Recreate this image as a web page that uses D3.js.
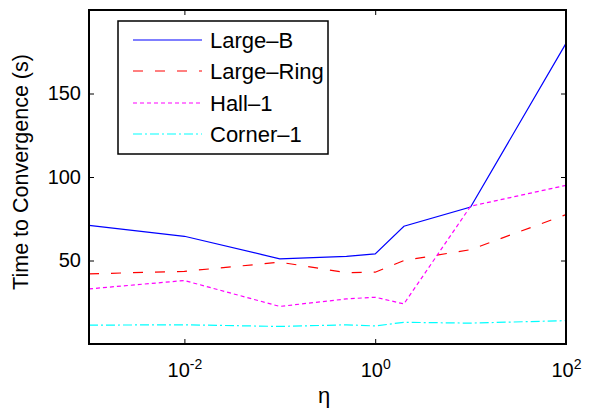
<!DOCTYPE html>
<html>
<head>
<meta charset="utf-8">
<script src="https://cdn.jsdelivr.net/npm/d3@7"></script>
<style>
  body { margin: 0; background: #fff; }
  text { font-family: "Liberation Sans", Arial, Helvetica, sans-serif; fill: #000; }
</style>
</head>
<body>
<div id="chart"></div>
<script>
const width = 590;
const height = 409;
const margin = { top: 10, right: 24, bottom: 65, left: 89 };

// eta values where each series was sampled
const eta = [0.001, 0.01, 0.1, 0.5, 1, 2, 10, 100];

const largeB = [71, 64.5, 51, 52.5, 54, 70.5, 82, 180];
const largeRing = [42, 43.5, 49, 42.7, 43, 50, 56.5, 77.5];
const hall1 = [33, 38, 22.5, 27, 28, 24, 82.5, 95];
const corner1 = [11.3, 11.5, 10.5, 11.5, 10.8, 13, 12.5, 14];

const seriesNames = ["Large\u2013B", "Large\u2013Ring", "Hall\u20131", "Corner\u20131"];
const xTicks = [1e-2, 1, 1e2];
const yTicks = [50, 100, 150];

const series = [
    { name: seriesNames[0], values: largeB, color: "#0000ff", dash: null },
    { name: seriesNames[1], values: largeRing, color: "#ff0000", dash: "10,12" },
    { name: seriesNames[2], values: hall1, color: "#ff00ff", dash: "4,3" },
    { name: seriesNames[3], values: corner1, color: "#00ffff", dash: "9,3,2,3" }
];

const svg = d3.select("#chart")
    .append("svg")
    .attr("width", width)
    .attr("height", height);

const plotW = width - margin.left - margin.right;
const plotH = height - margin.top - margin.bottom;

const x = d3.scaleLog()
    .domain([1e-3, 1e2])
    .range([margin.left, margin.left + plotW]);

const y = d3.scaleLinear()
    .domain([0, 200])
    .range([margin.top + plotH, margin.top]);

// bottom axis with 10^n labels
const xAxis = svg.append("g")
    .attr("transform", `translate(0, ${margin.top + plotH})`)
    .call(d3.axisBottom(x).tickValues(xTicks).tickSizeInner(-5).tickSizeOuter(0).tickPadding(19));
xAxis.select(".domain").remove();
xAxis.selectAll(".tick line").attr("stroke", "#000");
xAxis.selectAll(".tick text")
    .attr("font-size", "20px")
    .each(function(d) {
        const t = d3.select(this);
        t.text(null);
        t.append("tspan").text("10");
        t.append("tspan")
            .attr("dy", "-0.6em")
            .attr("font-size", "14px")
            .text(Math.round(Math.log10(d)));
    });

// top axis, ticks only
const xTop = svg.append("g")
    .attr("transform", `translate(0, ${margin.top})`)
    .call(d3.axisTop(x).tickValues(xTicks).tickSizeInner(-5).tickSizeOuter(0).tickFormat(""));
xTop.select(".domain").remove();

const yAxis = svg.append("g")
    .attr("transform", `translate(${margin.left}, 0)`)
    .call(d3.axisLeft(y).tickValues(yTicks).tickSizeInner(-5).tickSizeOuter(0).tickPadding(8));
yAxis.select(".domain").remove();
yAxis.selectAll(".tick text").attr("font-size", "20px");

const yRight = svg.append("g")
    .attr("transform", `translate(${margin.left + plotW}, 0)`)
    .call(d3.axisRight(y).tickValues(yTicks).tickSizeInner(-5).tickSizeOuter(0).tickFormat(""));
yRight.select(".domain").remove();

// series lines
const line = d3.line()
    .x((d, i) => x(eta[i]))
    .y(d => y(d));

svg.selectAll(".series")
    .data(series)
    .enter().append("path")
    .attr("class", "series")
    .attr("fill", "none")
    .attr("stroke", d => d.color)
    .attr("stroke-width", 1.2)
    .attr("stroke-dasharray", d => d.dash)
    .attr("d", d => line(d.values));

// axes box
svg.append("rect")
    .attr("x", margin.left)
    .attr("y", margin.top)
    .attr("width", plotW)
    .attr("height", plotH)
    .attr("fill", "none")
    .attr("stroke", "#000")
    .attr("stroke-width", 2);

// axis labels
svg.append("text")
    .attr("x", 324)
    .attr("y", 403)
    .attr("text-anchor", "middle")
    .attr("font-size", "22px")
    .text("\u03b7");

svg.append("text")
    .attr("transform", "translate(28, 172) rotate(-90)")
    .attr("text-anchor", "middle")
    .attr("font-size", "21.5px")
    .text("Time to Convergence (s)");

// legend
const legend = svg.append("g").attr("transform", "translate(118, 21)");
legend.append("rect")
    .attr("width", 210)
    .attr("height", 133)
    .attr("fill", "#fff")
    .attr("stroke", "#000")
    .attr("stroke-width", 1.5);

// integer row offsets so the sample lines straddle two pixel rows
const rows = legend.selectAll(".row")
    .data(series)
    .enter().append("g")
    .attr("class", "row")
    .attr("transform", (d, i) => `translate(0, ${Math.floor(19 + i * 31.5)})`);

rows.append("line")
    .attr("x1", 15)
    .attr("x2", 84)
    .attr("stroke", d => d.color)
    .attr("stroke-width", 1.2)
    .attr("stroke-dasharray", d => d.dash);

rows.append("text")
    .attr("x", 92)
    .attr("dy", "0.36em")
    .attr("font-size", "22px")
    .text(d => d.name);
</script>
</body>
</html>
